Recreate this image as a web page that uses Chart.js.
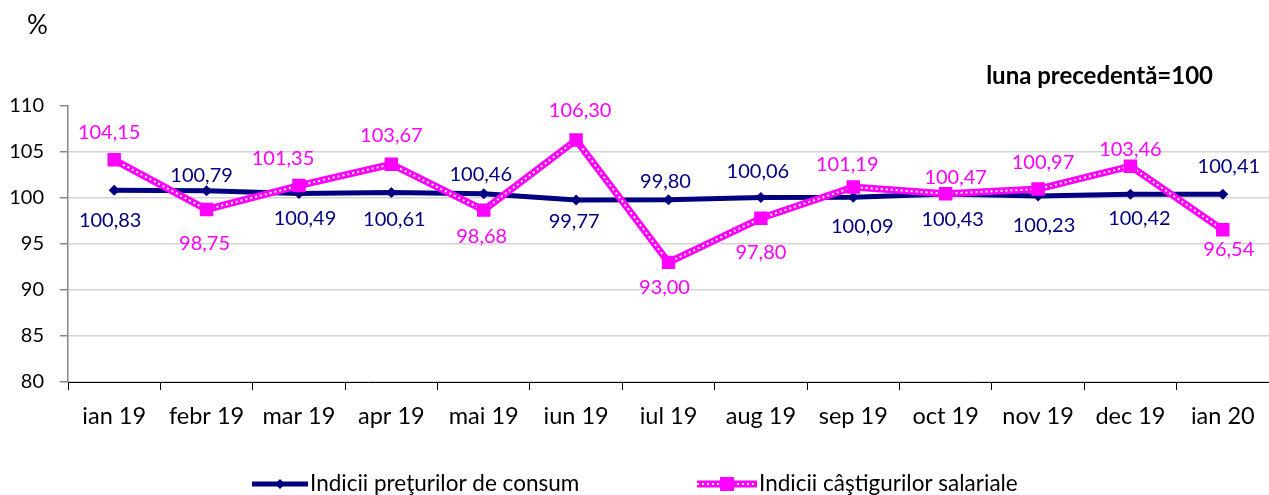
<!DOCTYPE html>
<html>
<head>
<meta charset="utf-8">
<script src="https://cdn.jsdelivr.net/npm/chart.js@4/dist/chart.umd.min.js"></script>
<style>
html,body{margin:0;padding:0;background:#fff;overflow:hidden;}
#wrap{position:relative;width:1269px;height:495px;}
</style>
</head>
<body>
<div id="wrap"><canvas id="c" width="1269" height="495"></canvas></div>
<script>
const categories = ['ian 19','febr 19','mar 19','apr 19','mai 19','iun 19','iul 19','aug 19','sep 19','oct 19','nov 19','dec 19','ian 20'];
const cpiValues  = [100.83,100.79,100.49,100.61,100.46,99.77,99.80,100.06,100.09,100.43,100.23,100.42,100.41];
const wageValues = [104.15,98.75,101.35,103.67,98.68,106.30,93.00,97.80,101.19,100.47,100.97,103.46,96.54];
const yTicks = [80,85,90,95,100,105,110];
const seriesNames = ['Indicii preţurilor de consum','Indicii câştigurilor salariale'];

// label placement offsets (px) relative to each point
const cpiLabelOffsets  = [[-4,30],[-5,-15],[6,25],[3,27],[-3,-19],[-2,21],[-3,-18],[-3,-26],[9,29],[7,26],[6,30],[9,24],[6,-28]];
const wageLabelOffsets = [[-5,-27],[-2,34],[-16,-27],[0,-29],[-2,26],[4,-29],[-4,25],[0,34],[-6,-23],[10,-16],[5,-27],[0,-17],[6,20]];

const NAVY = '#000080';
const MAGENTA = '#ff00ff';
const FONT = 'Lato, "Open Sans", sans-serif';

function fmt(v){ return v.toFixed(2).replace('.', ','); }

const labelPlugin = {
  id: 'valueLabels',
  afterDatasetsDraw(chart) {
    const ctx = chart.ctx;
    ctx.save();
    ctx.font = '20px ' + FONT;
    ctx.textAlign = 'center';
    ctx.textBaseline = 'middle';
    const draw = (dsIndex, values, offs, color) => {
      const meta = chart.getDatasetMeta(dsIndex);
      ctx.fillStyle = color;
      meta.data.forEach((pt, i) => {
        ctx.fillText(fmt(values[i]), pt.x + offs[i][0], pt.y + offs[i][1]);
      });
    };
    draw(0, cpiValues, cpiLabelOffsets, NAVY);
    draw(3, wageValues, wageLabelOffsets, MAGENTA);
    ctx.restore();
  },
  afterDraw(chart) {
    const ctx = chart.ctx;
    ctx.save();
    // titles
    ctx.fillStyle = '#000';
    ctx.font = '26px ' + FONT;
    ctx.textAlign = 'left';
    ctx.textBaseline = 'middle';
    ctx.fillText('%', 27, 26);
    ctx.font = 'bold 24px ' + FONT;
    ctx.textAlign = 'right';
    ctx.fillText('luna precedentă=100', 1213, 76);

    // legend
    const ly = 484;
    ctx.font = '22.5px ' + FONT;
    ctx.textAlign = 'left';
    // CPI
    ctx.strokeStyle = NAVY; ctx.lineWidth = 5;
    ctx.beginPath(); ctx.moveTo(252, ly); ctx.lineTo(308, ly); ctx.stroke();
    ctx.fillStyle = NAVY;
    ctx.beginPath(); ctx.moveTo(280, ly-5); ctx.lineTo(285, ly); ctx.lineTo(280, ly+5); ctx.lineTo(275, ly); ctx.closePath(); ctx.fill();
    ctx.fillStyle = '#000';
    ctx.fillText(seriesNames[0], 310, ly);
    // wage
    ctx.strokeStyle = MAGENTA; ctx.lineWidth = 7;
    ctx.beginPath(); ctx.moveTo(697, ly); ctx.lineTo(757, ly); ctx.stroke();
    ctx.strokeStyle = '#fff'; ctx.lineWidth = 2; ctx.setLineDash([2,3]);
    ctx.beginPath(); ctx.moveTo(697, ly); ctx.lineTo(757, ly); ctx.stroke();
    ctx.setLineDash([]);
    ctx.fillStyle = MAGENTA;
    ctx.fillRect(727-7, ly-7, 14, 14);
    ctx.fillStyle = '#000';
    ctx.fillText(seriesNames[1], 759, ly);
    ctx.restore();
  }
};

new Chart(document.getElementById('c'), {
  type: 'line',
  data: {
    labels: categories,
    datasets: [
      { label: seriesNames[0], data: cpiValues, borderColor: NAVY, backgroundColor: NAVY, borderWidth: 5,
        pointStyle: 'rectRot', pointRadius: 5.5, pointBorderWidth: 0, pointBackgroundColor: NAVY, tension: 0, order: 4 },
      { label: seriesNames[1], data: wageValues, borderColor: MAGENTA, borderWidth: 7, pointRadius: 0, tension: 0, order: 3 },
      { label: seriesNames[1], data: wageValues, borderColor: '#ffffff', borderWidth: 2, borderDash: [2,3], pointRadius: 0, tension: 0, order: 2 },
      { label: seriesNames[1], data: wageValues, showLine: false, pointStyle: 'rect', pointRadius: 9.5, pointBorderWidth: 0,
        pointBackgroundColor: MAGENTA, borderColor: MAGENTA, order: 1 }
    ]
  },
  options: {
    responsive: false,
    animation: false,
    events: [],
    layout: { autoPadding: false, padding: { top: 106, left: 0, right: -4, bottom: 0 } },
    plugins: { legend: { display: false }, tooltip: { enabled: false }, title: { display: false } },
    scales: {
      x: {
        offset: true,
        grid: { offset: true, drawOnChartArea: false, drawTicks: true, tickLength: 8, color: '#000', lineWidth: 1 },
        border: { color: '#000', width: 1 },
        ticks: { color: '#000', font: { family: FONT, size: 23.5 }, padding: 12, maxRotation: 0, autoSkip: false },
        afterFit(s) { s.height = 113; s.paddingLeft = 0; s.paddingRight = 0; }
      },
      y: {
        min: 80, max: 110,
        afterBuildTicks(s) { s.ticks = yTicks.map(v => ({ value: v })); },
        grid: { color: (c) => (c.tick && c.tick.value === 110) ? 'rgba(0,0,0,0)' : '#d4d4d4', lineWidth: 1.5, tickLength: 8, tickColor: '#868686' },
        border: { color: '#868686', width: 1.5 },
        ticks: { color: '#000', font: { family: FONT, size: 20 }, padding: 16 },
        afterFit(s) { s.width = 68; }
      }
    }
  },
  plugins: [labelPlugin]
});
</script>
</body>
</html>
